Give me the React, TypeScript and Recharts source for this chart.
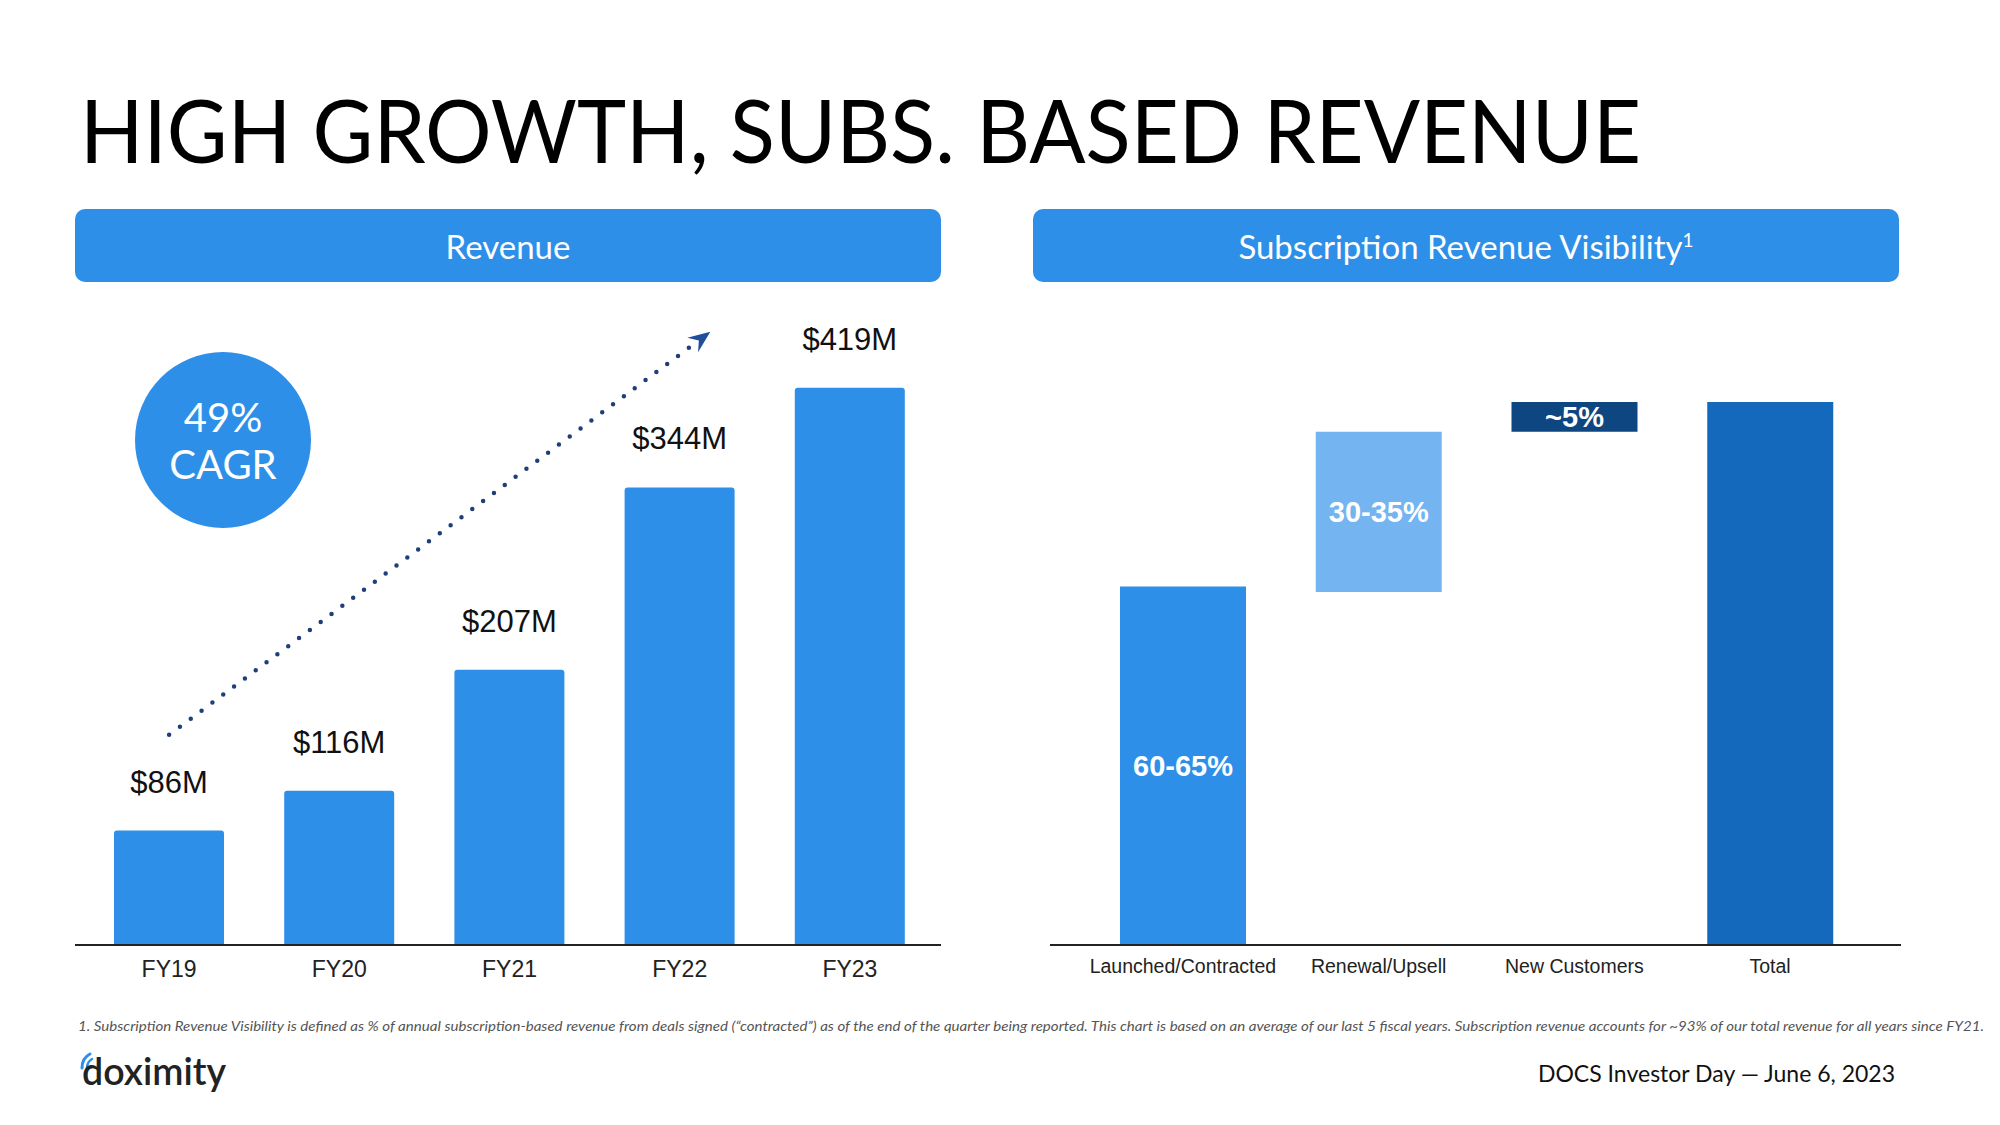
import React from "react";
import { BarChart, Bar, ComposedChart, XAxis, YAxis, LabelList, Cell, ReferenceLine } from "recharts";

// Revenue by fiscal year ($M)
const years = ["FY19", "FY20", "FY21", "FY22", "FY23"];
const revenue = [86, 116, 207, 344, 419];
const revenueLabels = ["$86M", "$116M", "$207M", "$344M", "$419M"];

// Subscription revenue visibility waterfall (% of total)
const stages = ["Launched/Contracted", "Renewal/Upsell", "New Customers", "Total"];
const stageLow = [0, 65, 94.5, 0];
const stageHigh = [66, 94.5, 100, 100];
const stageLabels = ["60-65%", "30-35%", "~5%", ""];
const stageColors = ["#2E8FE8", "#74B4F1", "#0D4680", "#1469BD"];

// dotted CAGR arrow, in (category position, $M)
const trendStart = { x: 0.5, y: 158 };
const trendEnd = { x: 3.68, y: 461 };

const BLUE = "#2E8FE8";
const ARIAL = "'Liberation Sans', Arial, sans-serif";
const AVENIR = "Lato, 'Noto Sans', sans-serif";

const revenueData = years.map((name, i) => ({ name, value: revenue[i], label: revenueLabels[i] }));
const trendData = [trendStart, trendEnd];
const stageData = stages.map((name, i) => ({
  name,
  range: [stageLow[i], stageHigh[i]],
  label: stageLabels[i],
}));

const TrendArrow = (props: any) => {
  const { x1, y1, x2, y2 } = props;
  const ang = Math.atan2(y2 - y1, x2 - x1);
  const L = 22;
  const W = 9;
  const bx = x2 - L * Math.cos(ang);
  const by = y2 - L * Math.sin(ang);
  const nx = x2 - L * 0.65 * Math.cos(ang);
  const ny = y2 - L * 0.65 * Math.sin(ang);
  const px = -Math.sin(ang) * W;
  const py = Math.cos(ang) * W;
  return (
    <g>
      <line
        x1={x1}
        y1={y1}
        x2={nx}
        y2={ny}
        stroke="#1F3F7A"
        strokeWidth={4.5}
        strokeLinecap="round"
        strokeDasharray="0 13.5"
      />
      <path
        d={`M${x2},${y2} L${bx + px},${by + py} L${nx},${ny} L${bx - px},${by - py} Z`}
        fill="#1F4E9A"
      />
    </g>
  );
};

const Header = ({ left, text, sup }: { left: number; text: string; sup?: string }) => (
  <div
    style={{
      position: "absolute",
      left,
      top: 209,
      width: 866,
      height: 73,
      borderRadius: 10,
      background: BLUE,
      color: "#fff",
      fontFamily: AVENIR,
      fontSize: 33,
      display: "flex",
      alignItems: "center",
      justifyContent: "center",
    }}
  >
    <span>
      {text}
      {sup && <sup style={{ fontSize: 19, verticalAlign: "super", lineHeight: 0 }}>{sup}</sup>}
    </span>
  </div>
);

export default function App() {
  return (
    <div style={{ position: "absolute", left: 0, top: 0, width: 2000, height: 1125, background: "#fff", overflow: "hidden" }}>
      <svg width={2000} height={1125} style={{ position: "absolute", left: 0, top: 0 }}>
        <text x={80} y={163} fontFamily={AVENIR} fontSize={87} fill="#000" textLength={1561} lengthAdjust="spacingAndGlyphs">
          HIGH GROWTH, SUBS. BASED REVENUE
        </text>
        <circle cx={223} cy={440} r={88} fill={BLUE} />
        <text x={223} y={432} textAnchor="middle" fontFamily={AVENIR} fontSize={40} fill="#fff">49%</text>
        <text x={223} y={479} textAnchor="middle" fontFamily={AVENIR} fontSize={40} fill="#fff">CAGR</text>
        <text x={78} y={1031} fontFamily={AVENIR} fontStyle="italic" fontSize={12.5} fill="#555" textLength={1906} lengthAdjust="spacingAndGlyphs">
          1. Subscription Revenue Visibility is defined as % of annual subscription-based revenue from deals signed (“contracted”) as of the end of the quarter being reported. This chart is based on an average of our last 5 fiscal years. Subscription revenue accounts for ~93% of our total revenue for all years since FY21.
        </text>
        <path d="M82,1068 Q82,1058 90,1054" stroke={BLUE} strokeWidth={3} fill="none" strokeLinecap="round" />
        <path d="M87,1068 Q87,1062 92,1059" stroke={BLUE} strokeWidth={2.5} fill="none" strokeLinecap="round" />
        <text x={82} y={1085} fontFamily={AVENIR} fontWeight={600} fontSize={38} fill="#222" textLength={144} lengthAdjust="spacingAndGlyphs">
          doximity
        </text>
        <text x={1895} y={1082} textAnchor="end" fontFamily={AVENIR} fontSize={23} fill="#111">
          DOCS Investor Day — June 6, 2023
        </text>
      </svg>

      <Header left={75} text="Revenue" />
      <Header left={1033} text="Subscription Revenue Visibility" sup="1" />

      <div style={{ position: "absolute", left: 75, top: 250 }}>
        <BarChart width={866} height={745} data={revenueData} margin={{ top: 30, right: 0, bottom: 0, left: 0 }}>
          <XAxis
            dataKey="name"
            padding={{ left: 9, right: 6 }}
            height={50}
            tickLine={false}
            tickSize={0}
            tickMargin={16}
            axisLine={{ stroke: "#222", strokeWidth: 2 }}
            tick={{ fill: "#222", fontSize: 23, fontFamily: ARIAL }}
          />
          <YAxis hide domain={[0, 500]} />
          <Bar dataKey="value" fill={BLUE} barSize={110} radius={[3, 3, 0, 0]} isAnimationActive={false}>
            <LabelList dataKey="label" position="top" offset={38} fill="#111" fontSize={31} fontFamily={ARIAL} />
          </Bar>
        </BarChart>
      </div>

      {/* trend arrow overlay: same plot box as the revenue chart, numeric x over the 5 year slots */}
      <div style={{ position: "absolute", left: 75, top: 250, pointerEvents: "none" }}>
        <ComposedChart width={866} height={745} data={trendData} margin={{ top: 30, right: 0, bottom: 50, left: 0 }}>
          <XAxis dataKey="x" type="number" domain={[0, 5]} allowDataOverflow hide padding={{ left: 9, right: 6 }} />
          <YAxis hide domain={[0, 500]} allowDataOverflow />
          <ReferenceLine segment={[trendStart, trendEnd]} ifOverflow="visible" shape={TrendArrow} />
        </ComposedChart>
      </div>

      <div style={{ position: "absolute", left: 1050, top: 350 }}>
        <BarChart width={851} height={645} data={stageData} margin={{ top: 52, right: 0, bottom: 0, left: 0 }}>
          <XAxis
            dataKey="name"
            padding={{ left: 35, right: 33 }}
            height={50}
            tickLine={false}
            tickSize={0}
            tickMargin={14}
            axisLine={{ stroke: "#222", strokeWidth: 2 }}
            tick={{ fill: "#222", fontSize: 19.5, fontFamily: ARIAL }}
            interval={0}
          />
          <YAxis hide domain={[0, 100]} />
          <Bar dataKey="range" barSize={126} isAnimationActive={false}>
            {stageData.map((d, i) => (
              <Cell key={d.name} fill={stageColors[i]} />
            ))}
            <LabelList dataKey="label" position="center" fill="#fff" fontSize={29} fontWeight="bold" fontFamily={ARIAL} />
          </Bar>
        </BarChart>
      </div>
    </div>
  );
}
